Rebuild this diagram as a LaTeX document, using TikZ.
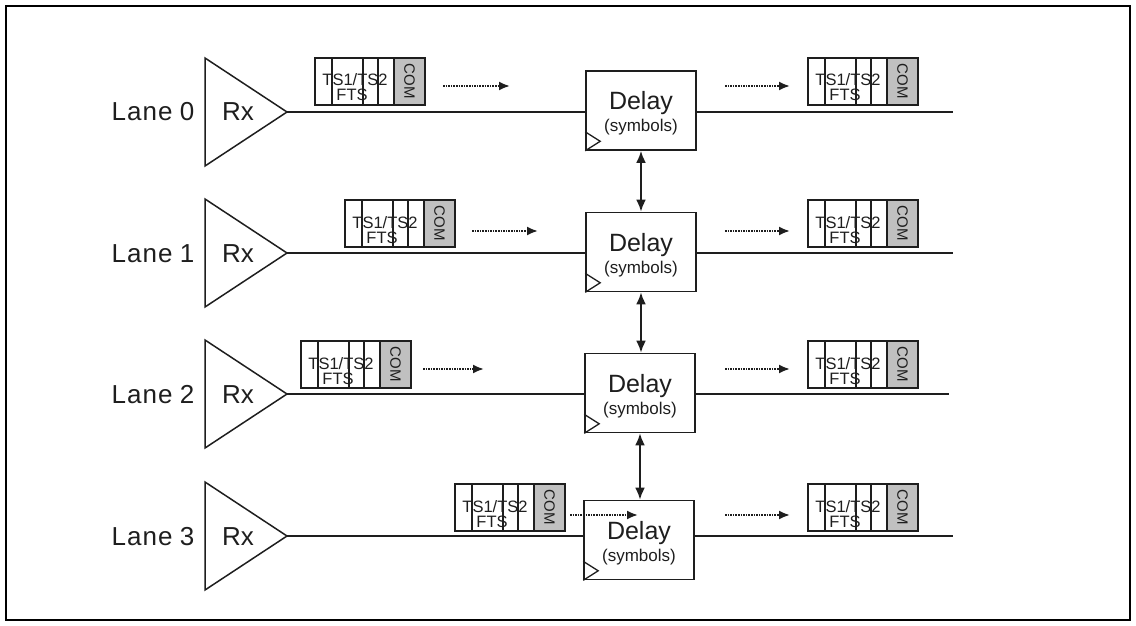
\documentclass[tikz,border=0pt]{standalone}
\usepackage{fontspec}
\setmainfont{Liberation Sans}
\usetikzlibrary{arrows.meta}
\definecolor{comgray}{RGB}{192,192,192}
\definecolor{ink}{RGB}{30,30,30}
\newcommand\pkt[3]{%
  \fill[comgray] (#1+79,#2) rectangle (#1+110,#2+47);
  \draw[pktline] (#1,#2) rectangle (#1+110,#2+47);
  \foreach \c in {17,48,63,79} {\draw[pktline] (#1+\c,#2) -- (#1+\c,#2+47);}
  \node[pkttxt,anchor=base] (#3-ts) at (#1+40,#2+28) {TS1/TS2};
  \node[pkttxt,anchor=base] (#3-fts) at (#1+37,#2+43) {FTS};
  \node[comtxt,rotate=-90] (#3-com) at (#1+94.5,#2+23) {COM};
}
\begin{document}
\begin{tikzpicture}[x=1pt,y=-1pt,
  every node/.style={text=ink},
  frame/.style={draw=black,line width=2.6pt},
  lane/.style={draw=ink,line width=1.9pt},
  rxtri/.style={draw=ink,line width=1.5pt,line join=miter},
  delaybox/.style={draw=ink,line width=1.6pt,minimum width=110pt,minimum height=79pt,inner sep=0pt,fill=white},
  pktline/.style={draw=ink,line width=1.4pt},
  pkttxt/.style={font=\fontsize{16.5}{16.5}\selectfont,inner sep=0pt,text height=12pt,text depth=0pt},
  comtxt/.style={font=\fontsize{15}{15}\selectfont,inner sep=0pt},
  lanetxt/.style={font=\fontsize{26}{26}\selectfont,inner sep=0pt},
  delaytxt/.style={font=\fontsize{25}{25}\selectfont,inner sep=0pt},
  symtxt/.style={font=\fontsize{17}{17}\selectfont,inner sep=0pt},
  flow/.style={draw=ink,line width=2pt,dash pattern=on 1.6pt off 1pt,-{Latex[length=11pt,width=9pt]}},
  link/.style={draw=ink,line width=2.2pt,{Latex[length=12pt,width=10pt]}-{Latex[length=12pt,width=10pt]}}
]
\useasboundingbox (0,0) rectangle (1136,626);
\draw[frame] (6,6) rectangle (1130,620);

\foreach \i/\y/\lpx/\lpt/\las/\lae/\ay/\cx/\cy/\ex in {
  0/112/315/58/443/510/86/641/110.5/953,
  1/253/345/200/472/538/231/641/252/953,
  2/394/301/341/423/484/369/640/393/949,
  3/536/455/484/570/638/515/639/540/953}{
  % receiver triangle
  \coordinate (tt\i) at (205,\y-54);
  \coordinate (tb\i) at (205,\y+54);
  \coordinate (tip\i) at (287,\y);
  \draw[rxtri] (tt\i) -- (tip\i) -- (tb\i) -- cycle;
  \node[lanetxt,anchor=base] (rx\i) at (238,\y+9) {Rx};
  \node[lanetxt,anchor=base] (ln\i) at (153,\y+9) {L\kern1pt a\kern1pt n\kern1pt e \i};
  % delay box
  \node[delaybox] (d\i) at (\cx,\cy) {};
  \node[delaytxt,anchor=base] (dl\i) at (\cx,\cy-1) {Delay};
  \node[symtxt,anchor=base] (sy\i) at (\cx,\cy+21) {(symbols)};
  \draw[line width=1.3pt,draw=ink] ([yshift=19pt]d\i.south west) -- ([xshift=15pt,yshift=9.5pt]d\i.south west) -- (d\i.south west);
  % lane lines
  \coordinate (end\i) at (\ex,\y);
  \draw[lane] (tip\i) -- (tip\i -| d\i.west);
  \draw[lane] (d\i.east |- tip\i) -- (end\i);
  % packets
  \pkt{\lpx}{\lpt}{lp\i}
  \pkt{808}{\lpt}{rp\i}
  \coordinate (las\i) at (\las,\ay);
  \coordinate (lae\i) at (\lae,\ay);
  \coordinate (ras\i) at (725,\ay);
  \coordinate (rae\i) at (790,\ay);
  \draw[flow] (las\i) -- (lae\i);
  \draw[flow] (ras\i) -- (rae\i);
}
\draw[link] (d0.south) -- (d0.south |- d1.north);
\draw[link] (d1.south) -- (d1.south |- d2.north);
\draw[link] (d2.south) -- (d2.south |- d3.north);
\end{tikzpicture}
\end{document}
